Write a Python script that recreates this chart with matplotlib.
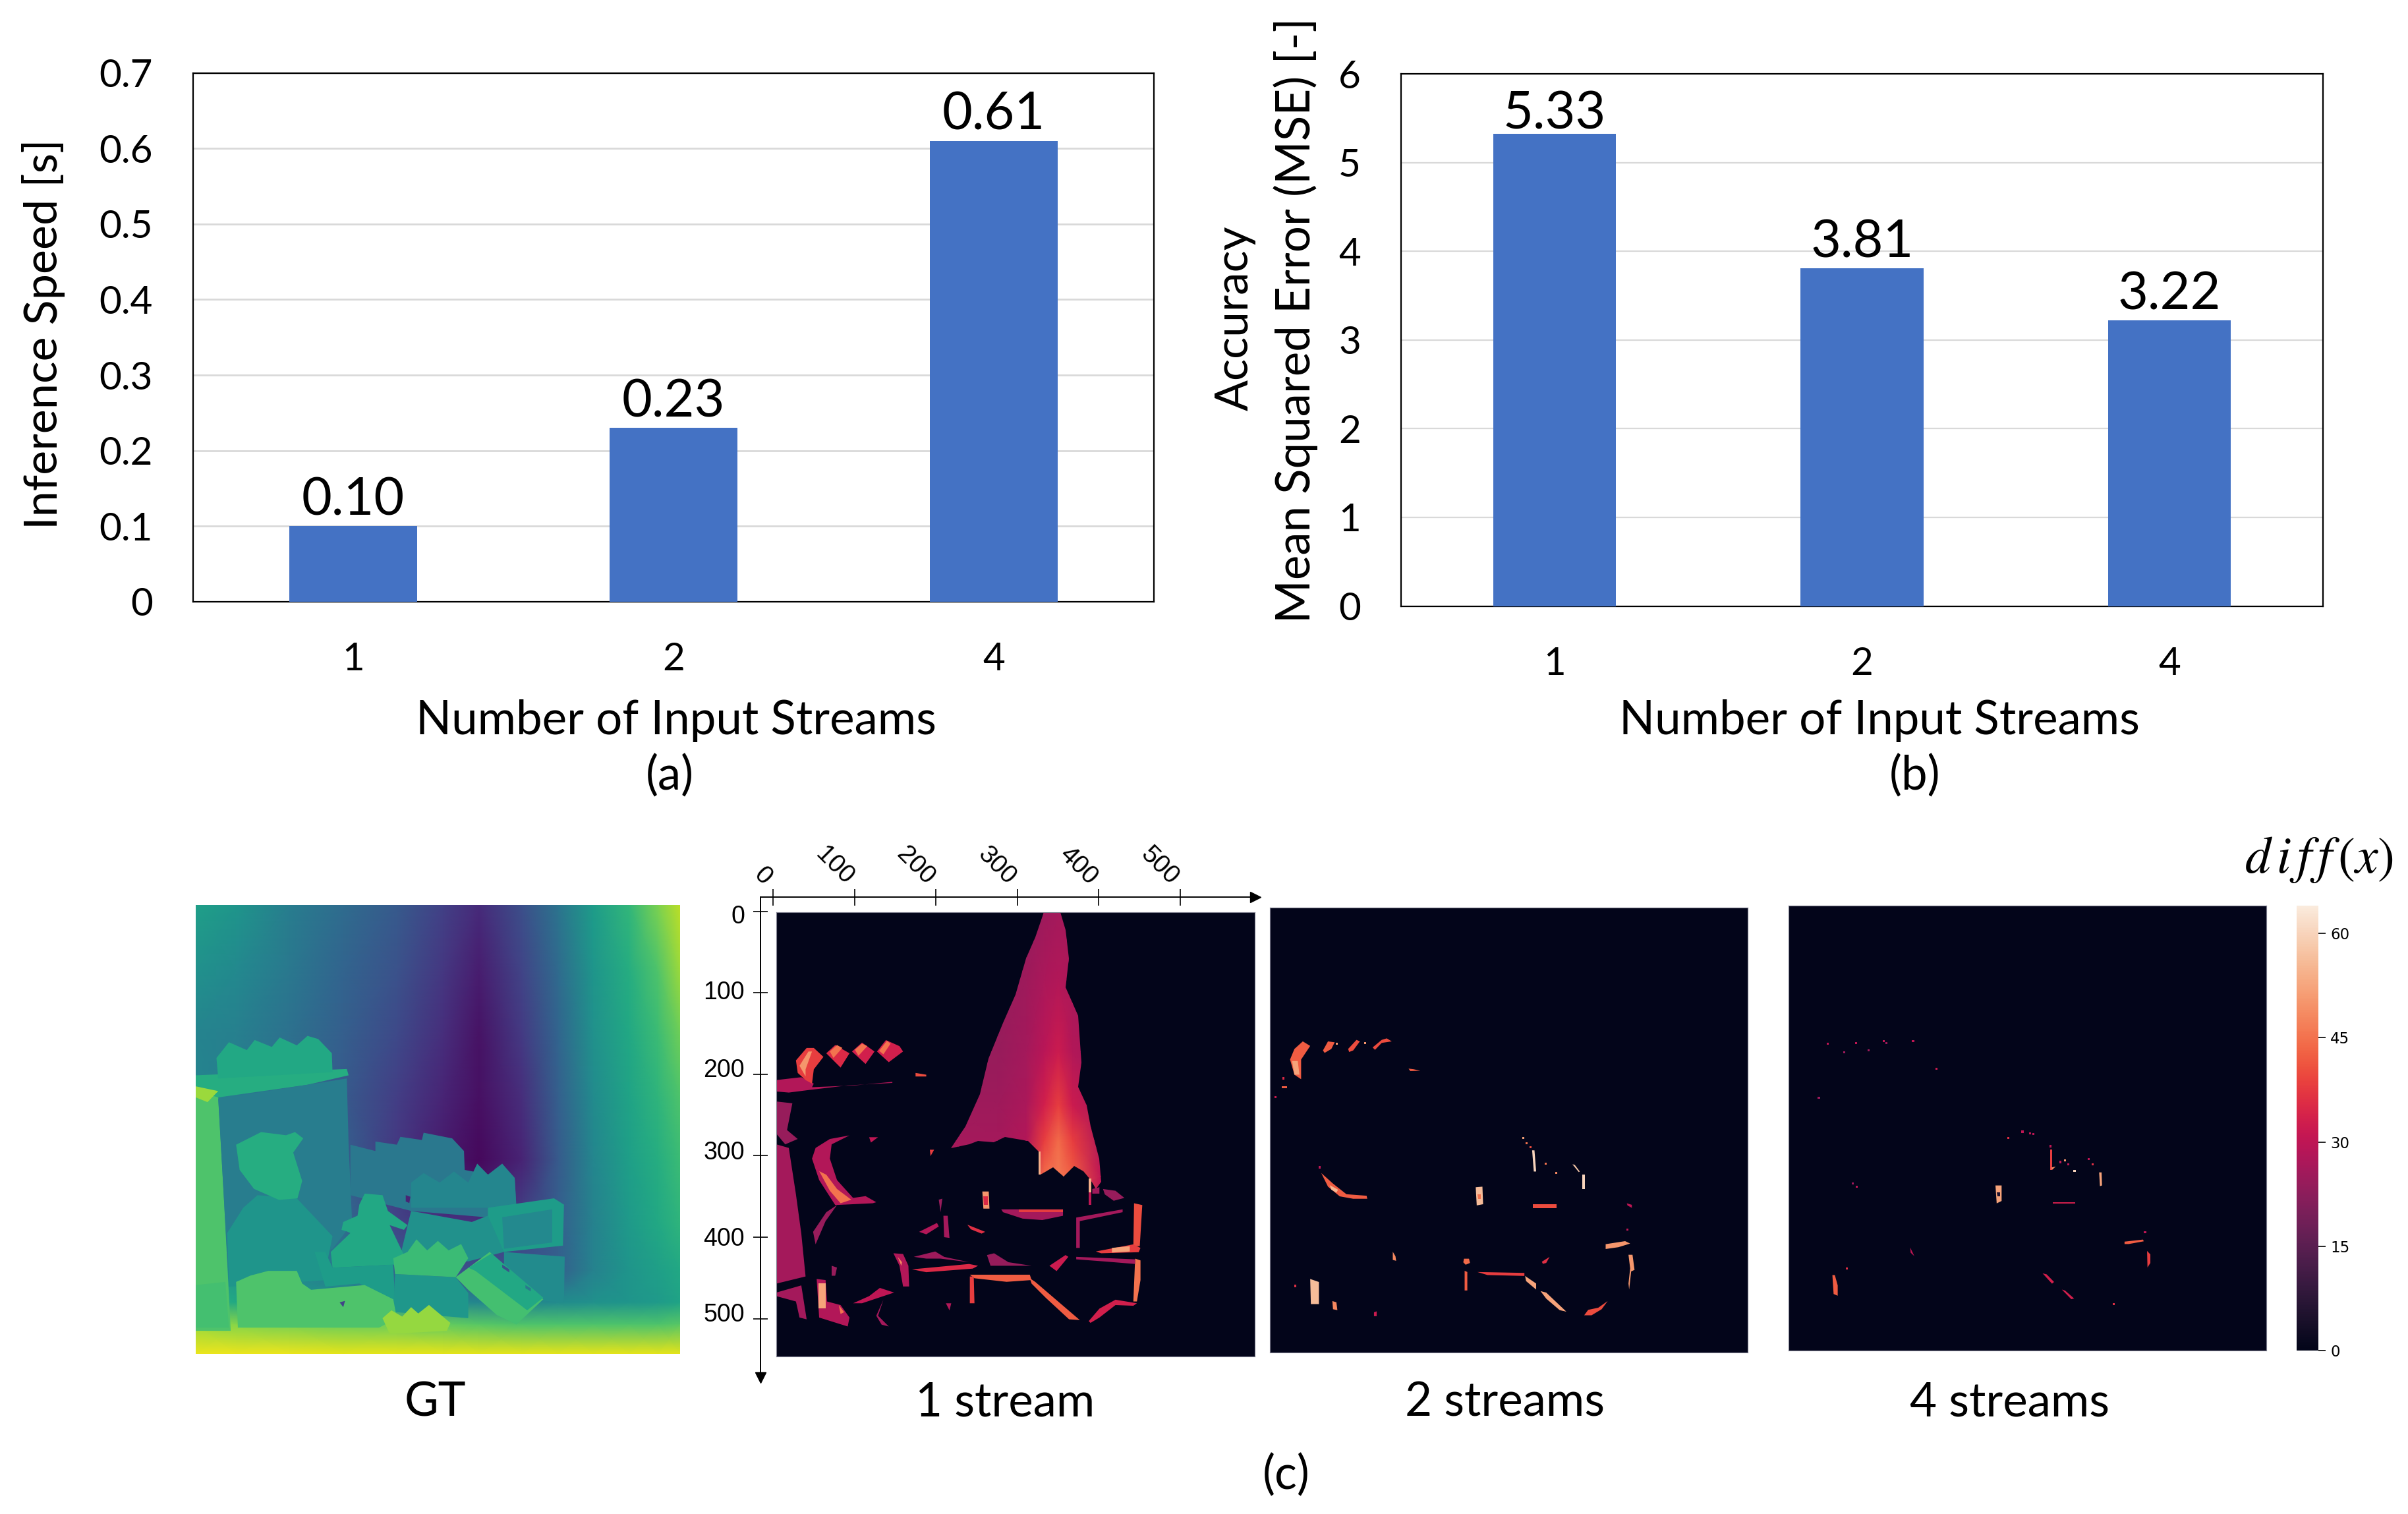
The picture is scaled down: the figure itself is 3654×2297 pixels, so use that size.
import numpy as np
import matplotlib
matplotlib.use("Agg")
import matplotlib.pyplot as plt
from matplotlib.patches import Polygon
from matplotlib.transforms import ScaledTranslation
import seaborn as sns

FIG_W, FIG_H = 3655, 2297
plt.rcParams['font.family'] = ['Lato', 'DejaVu Sans']
plt.rcParams['mathtext.fontset'] = 'stix'

BLUE = '#4472C4'
GRID = '#D9D9D9'

streams = ['1', '2', '4']
speed = [0.10, 0.23, 0.61]
speed_labels = ['0.10', '0.23', '0.61']
mse = [5.33, 3.81, 3.22]
mse_labels = ['5.33', '3.81', '3.22']
speed_ticks = [0, 0.1, 0.2, 0.3, 0.4, 0.5, 0.6, 0.7]
speed_ticklabels = ['0', '0.1', '0.2', '0.3', '0.4', '0.5', '0.6', '0.7']
mse_ticks = [0, 1, 2, 3, 4, 5, 6]

scale_xticks = [0, 100, 200, 300, 400, 500]
scale_yticks = [0, 100, 200, 300, 400, 500]
cbar_ticks = [0, 15, 30, 45, 60]
diff_max = 64

# depth background, read on a coarse grid (panel coordinates), viridis 0-1
gt_xs = [87, 200, 350, 500, 650, 780, 880, 1000, 1100, 1200, 1300, 1380, 1443]
gt_ys = [90, 300, 500, 700, 900, 1100, 1250, 1350, 1420, 1513]
gt_vals = [
    [.56, .52, .42, .35, .28, .19, .12, .24, .38, .55, .66, .80, .90],
    [.50, .47, .40, .32, .25, .16, .08, .20, .34, .52, .62, .72, .85],
    [.45, .43, .37, .30, .22, .13, .05, .17, .32, .50, .60, .68, .78],
    [.45, .42, .36, .28, .18, .10, .04, .13, .30, .48, .58, .65, .72],
    [.50, .45, .38, .30, .16, .07, .02, .10, .28, .46, .56, .62, .68],
    [.55, .45, .40, .34, .20, .14, .14, .20, .30, .44, .54, .60, .65],
    [.60, .50, .45, .40, .30, .25, .25, .25, .30, .44, .52, .56, .60],
    [.65, .60, .55, .52, .50, .48, .46, .46, .48, .50, .52, .54, .58],
    [.85, .82, .80, .78, .78, .76, .74, .72, .72, .72, .72, .72, .74],
    [.97, .97, .97, .96, .96, .96, .96, .96, .96, .96, .96, .96, .96],
]

# objects in the depth map: (viridis value, outline)
gt_objects = [
    (.72, [(87, 650), (150, 700), (165, 1000), (185, 1440), (87, 1440)]),
    (.62, [(87, 630), (510, 610), (515, 630), (400, 660), (150, 700), (87, 680)]),
    (.85, [(87, 665), (150, 680), (120, 715), (87, 700)]),
    (.60, [(145, 575), (180, 525), (230, 550), (252, 518), (300, 540), (322, 510), (370, 535), (400, 505), (430, 515), (468, 560), (470, 620), (150, 640)]),
    (.42, [(150, 705), (510, 640), (515, 850), (525, 1100), (470, 1180), (180, 1300)]),
    (.52, [(260, 1010), (370, 1020), (470, 1140), (445, 1280), (180, 1300), (175, 1130), (220, 1050)]),
    (.62, [(200, 850), (270, 810), (340, 820), (365, 810), (388, 830), (360, 875), (385, 965), (372, 1020), (320, 1025), (250, 990), (210, 930)]),
    (.40, [(520, 850), (590, 870), (590, 840), (650, 850), (660, 825), (720, 835), (725, 812), (805, 830), (838, 870), (840, 930), (980, 960), (985, 1060), (900, 1080), (690, 1060), (520, 1010)]),
    (.46, [(690, 970), (725, 940), (770, 970), (810, 935), (850, 970), (875, 910), (905, 945), (945, 910), (980, 955), (985, 1050), (690, 1050)]),
    (.55, [(905, 1050), (1090, 1020), (1118, 1040), (1115, 1170), (950, 1190), (905, 1150)]),
    (.47, [(945, 1080), (1085, 1055), (1085, 1160), (950, 1180)]),
    (.48, [(950, 1190), (1120, 1205), (1118, 1350), (1060, 1345), (950, 1260)]),
    (.50, [(690, 1060), (860, 1095), (905, 1075), (950, 1190), (850, 1220), (660, 1200)]),
    (.60, [(545, 1040), (560, 1005), (610, 1010), (625, 1060), (680, 1105), (670, 1120), (630, 1105), (670, 1200), (650, 1230), (470, 1240), (465, 1190), (520, 1130), (510, 1125), (495, 1120), (500, 1095), (540, 1075)]),
    (.55, [(420, 1190), (450, 1190), (470, 1240), (640, 1230), (645, 1350), (545, 1290), (450, 1300)]),
    (.53, [(645, 1260), (815, 1270), (850, 1320), (850, 1400), (640, 1380)]),
    (.68, [(640, 1210), (680, 1190), (705, 1150), (735, 1185), (765, 1155), (795, 1185), (830, 1165), (850, 1210), (815, 1270), (645, 1260)]),
    (.70, [(815, 1270), (910, 1190), (1060, 1340), (985, 1420), (930, 1390), (850, 1310)]),
    (.60, [(850, 1240), (915, 1195), (1060, 1335), (1015, 1375), (870, 1250)]),
    (.72, [(200, 1285), (240, 1265), (290, 1250), (370, 1250), (385, 1290), (410, 1310), (560, 1295), (640, 1340), (650, 1400), (600, 1430), (205, 1430)]),
    (.70, [(87, 1295), (170, 1285), (180, 1430), (87, 1430)]),
    (.84, [(610, 1400), (635, 1375), (665, 1395), (690, 1365), (710, 1385), (740, 1358), (800, 1415), (790, 1440), (630, 1450)]),
    (.25, [(945, 1230), (965, 1245), (965, 1255), (945, 1240)]),
    (.40, [(1010, 1295), (1025, 1305), (1025, 1315), (1010, 1305)]),
    (.20, [(490, 1350), (505, 1345), (500, 1365)]),
    (.10, [(675, 1010), (688, 1015), (685, 1035), (675, 1030)]),
]

# the big error wedge of the 1 stream map: outline and shading grid
wedge_outline = [(930, 210), (975, 210), (990, 260), (1000, 340), (990, 420), (1025, 500), (1035, 630), (1025, 700), (1050, 750), (1060, 810), (1085, 900), (1090, 965), (1075, 985), (1060, 960), (1040, 935), (1015, 920), (985, 950), (955, 925), (920, 945), (915, 880), (885, 850), (820, 840), (790, 855), (745, 850), (720, 860), (670, 870), (710, 810), (750, 720), (775, 620), (815, 520), (850, 440), (880, 340), (905, 280)]
wedge_xs = [670, 800, 880, 930, 970, 1010, 1090]
wedge_ys = [210, 400, 600, 750, 850, 950, 990]
wedge_vals = [
    [24, 24, 24, 25, 26, 26, 26],
    [24, 24, 25, 27, 28, 27, 26],
    [24, 24, 26, 29, 32, 28, 26],
    [25, 25, 27, 33, 38, 32, 27],
    [26, 26, 28, 38, 44, 38, 28],
    [28, 28, 30, 44, 46, 42, 30],
    [28, 28, 30, 44, 46, 42, 30],
]

# error regions: (diff value, outline)
stream1_blobs = [
    (54, [(915, 880), (921, 880), (921, 945), (915, 945)]),
    (26, [(180, 860), (215, 870), (235, 1000), (250, 1110), (262, 1230), (180, 1250)]),
    (24, [(180, 740), (225, 745), (210, 820), (240, 845), (205, 860), (180, 830)]),
    (26, [(180, 1275), (250, 1255), (265, 1350), (245, 1345), (235, 1300), (180, 1285)]),
    (28, [(180, 680), (250, 672), (285, 690), (280, 700), (400, 695), (505, 685), (505, 688), (380, 695), (270, 708), (215, 715), (180, 712)]),
    (38, [(265, 590), (285, 590), (312, 615), (285, 650), (280, 690), (262, 680), (240, 660), (235, 625)]),
    (50, [(245, 640), (270, 600), (280, 600), (262, 650), (262, 670)]),
    (35, [(345, 582), (385, 605), (360, 645), (320, 605)]),
    (45, [(330, 600), (350, 582), (365, 590), (340, 618)]),
    (33, [(420, 575), (455, 600), (430, 635), (392, 600)]),
    (45, [(400, 595), (420, 578), (435, 585), (410, 612)]),
    (33, [(487, 568), (525, 585), (535, 600), (495, 630), (462, 600)]),
    (45, [(468, 598), (490, 570), (500, 578), (480, 608)]),
    (40, [(570, 660), (600, 665), (600, 670), (570, 670)]),
    (28, [(385, 835), (330, 845), (290, 870), (280, 900), (300, 960), (345, 1030), (450, 1025), (460, 1022), (430, 1005), (395, 1010), (350, 960), (330, 900), (335, 860)]),
    (45, [(300, 935), (320, 945), (350, 985), (390, 1015), (360, 1025), (330, 990)]),
    (30, [(440, 840), (465, 840), (445, 855)]),
    (38, [(610, 875), (622, 875), (612, 893)]),
    (24, [(350, 1030), (318, 1075), (290, 1140), (283, 1105), (320, 1050)]),
    (50, [(757, 992), (775, 992), (777, 1040), (760, 1040)]),
    (35, [(760, 1005), (772, 1005), (772, 1030), (762, 1030)]),
    (26, [(810, 1042), (983, 1042), (983, 1060), (925, 1072), (870, 1068), (815, 1050)]),
    (38, [(860, 1042), (983, 1042), (983, 1050), (860, 1050)]),
    (30, [(1055, 995), (1063, 995), (1063, 1030), (1055, 1030)]),
    (54, [(1055, 955), (1063, 955), (1063, 995), (1055, 995)]),
    (25, [(1065, 985), (1085, 980), (1085, 998), (1065, 998)]),
    (24, [(1095, 985), (1130, 990), (1155, 1010), (1125, 1018), (1100, 1000)]),
    (26, [(1020, 1065), (1150, 1042), (1150, 1050), (1030, 1075), (1030, 1150), (1020, 1150)]),
    (40, [(1182, 1025), (1205, 1030), (1198, 1145), (1180, 1145)]),
    (38, [(1075, 1160), (1180, 1140), (1200, 1150), (1195, 1162), (1090, 1165)]),
    (52, [(1120, 1150), (1170, 1145), (1170, 1160), (1120, 1163)]),
    (45, [(1185, 1180), (1200, 1185), (1200, 1240), (1190, 1300), (1180, 1300)]),
    (26, [(1020, 1175), (1185, 1182), (1185, 1195), (1100, 1188), (1020, 1182)]),
    (35, [(560, 1210), (720, 1195), (745, 1200), (730, 1208), (600, 1218)]),
    (25, [(565, 1175), (625, 1160), (650, 1175), (720, 1190), (640, 1180), (600, 1180)]),
    (24, [(770, 1170), (790, 1165), (830, 1190), (895, 1200), (780, 1200)]),
    (32, [(945, 1200), (990, 1170), (998, 1175), (965, 1215)]),
    (42, [(722, 1225), (890, 1225), (895, 1240), (825, 1245), (735, 1235)]),
    (38, [(722, 1230), (733, 1230), (735, 1305), (722, 1305)]),
    (42, [(890, 1235), (905, 1245), (1030, 1352), (1000, 1350), (935, 1290), (895, 1250)]),
    (33, [(1060, 1360), (1055, 1355), (1085, 1320), (1130, 1295), (1190, 1305), (1180, 1312), (1130, 1310), (1085, 1345)]),
    (28, [(293, 1237), (318, 1240), (322, 1300), (360, 1310), (385, 1345), (380, 1370), (300, 1345)]),
    (52, [(298, 1250), (318, 1250), (318, 1320), (298, 1320)]),
    (45, [(355, 1310), (370, 1330), (360, 1335)]),
    (30, [(395, 1305), (440, 1285), (470, 1262), (510, 1275), (480, 1285), (420, 1305)]),
    (26, [(480, 1295), (465, 1340), (495, 1370), (475, 1365), (460, 1340)]),
    (28, [(508, 1165), (535, 1167), (550, 1200), (552, 1258), (535, 1258), (525, 1200)]),
    (48, [(520, 1175), (532, 1190), (530, 1200)]),
    (24, [(335, 1200), (350, 1205), (345, 1228), (335, 1228)]),
    (28, [(580, 1105), (630, 1080), (635, 1090), (600, 1112)]),
    (26, [(648, 1060), (660, 1060), (665, 1122), (650, 1120)]),
    (36, [(715, 1085), (765, 1105), (755, 1110), (725, 1098)]),
    (24, [(635, 1015), (645, 1012), (640, 1050)]),
    (28, [(655, 1305), (670, 1305), (665, 1325)]),
]

stream2_blobs = [
    (42, [(150, 500), (172, 515), (145, 560), (145, 625), (125, 610), (112, 560), (125, 525)]),
    (52, [(118, 565), (135, 565), (140, 610), (125, 610)]),
    (42, [(225, 500), (245, 503), (235, 525), (215, 538), (210, 530)]),
    (40, [(310, 495), (320, 500), (300, 530), (288, 535), (285, 525)]),
    (40, [(385, 495), (400, 490), (415, 500), (385, 505), (365, 528), (358, 520)]),
    (42, [(465, 590), (480, 592), (500, 597), (470, 598)]),
    (42, [(88, 648), (103, 648), (103, 655), (88, 655)]),
    (42, [(205, 935), (240, 970), (280, 1005), (340, 1010), (342, 1020), (300, 1020), (260, 1012), (225, 980)]),
    (55, [(230, 975), (255, 990), (250, 1000), (235, 990)]),
    (56, [(665, 982), (685, 980), (687, 1038), (668, 1042)]),
    (45, [(670, 1005), (680, 1005), (680, 1020), (672, 1020)]),
    (40, [(835, 1038), (905, 1038), (905, 1050), (835, 1050)]),
    (60, [(833, 860), (840, 860), (845, 930), (838, 930)]),
    (60, [(982, 940), (990, 940), (990, 987), (982, 987)]),
    (58, [(953, 906), (960, 908), (975, 930), (972, 932)]),
    (50, [(1052, 1170), (1110, 1160), (1125, 1168), (1090, 1180), (1052, 1186)]),
    (50, [(1120, 1205), (1132, 1205), (1138, 1255), (1128, 1260), (1122, 1320), (1120, 1300), (1125, 1250)]),
    (40, [(988, 1405), (1000, 1387), (1030, 1380), (1058, 1358), (1040, 1385), (1010, 1405)]),
    (52, [(858, 1325), (875, 1330), (935, 1393), (915, 1388), (875, 1350)]),
    (52, [(812, 1275), (845, 1300), (845, 1320), (815, 1292)]),
    (38, [(670, 1262), (810, 1265), (810, 1275), (700, 1272)]),
    (42, [(632, 1258), (640, 1262), (640, 1323), (632, 1323)]),
    (44, [(630, 1218), (645, 1218), (648, 1232), (635, 1238), (628, 1230)]),
    (56, [(172, 1285), (198, 1295), (198, 1368), (174, 1368)]),
    (48, [(238, 1358), (250, 1362), (253, 1388), (240, 1385)]),
    (48, [(418, 1195), (426, 1210), (428, 1225), (418, 1222)]),
    (36, [(862, 1228), (885, 1212), (875, 1232), (865, 1235)]),
    (32, [(362, 1395), (370, 1392), (370, 1408), (362, 1408)]),
    (30, [(1115, 1035), (1130, 1040), (1130, 1050), (1117, 1042)]),
]
stream2_dots = [(806, 820, 52), (817, 837, 45), (828, 849, 40), (874, 904, 45), (905, 934, 48),
                (93, 622, 35), (68, 685, 32), (200, 916, 30), (1117, 1122, 30), (128, 1308, 36),
                (335, 505, 50), (252, 508, 50)]

stream4_blobs = [
    (42, [(162, 1290), (168, 1290), (175, 1320), (175, 1350), (165, 1345)]),
    (52, [(560, 1030), (575, 1030), (575, 1075), (563, 1082)]),
    (5, [(563, 1050), (572, 1050), (572, 1062), (565, 1062)]),
    (38, [(693, 925), (698, 925), (698, 985), (693, 985)]),
    (48, [(696, 978), (707, 975), (698, 985)]),
    (52, [(813, 992), (819, 992), (820, 1030), (815, 1032)]),
    (33, [(700, 1078), (755, 1078), (755, 1083), (700, 1083)]),
    (42, [(875, 1193), (920, 1187), (922, 1192), (885, 1200), (875, 1200)]),
    (38, [(930, 1220), (938, 1230), (938, 1255), (931, 1268)]),
    (33, [(675, 1285), (685, 1288), (703, 1310), (698, 1315)]),
    (33, [(722, 1332), (730, 1335), (752, 1358), (745, 1360)]),
    (30, [(352, 1210), (356, 1220), (362, 1235), (353, 1225)]),
]
stream4_dots = [(150, 618, 30), (220, 616, 30), (288, 611, 30), (359, 611, 30), (191, 643, 25),
                (250, 637, 25), (294, 616, 25), (416, 692, 32), (129, 776, 25), (592, 892, 36),
                (626, 874, 30), (644, 878, 30), (653, 881, 30), (718, 962, 30), (729, 957, 50),
                (738, 968, 30), (753, 988, 60), (787, 953, 30), (797, 968, 36), (222, 1033, 30),
                (212, 1024, 25), (197, 1271, 36), (848, 1375, 36), (925, 1165, 30), (694, 916, 30)]


def px_axes(fig, left, top, right, bottom, **kw):
    return fig.add_axes([left / FIG_W, 1 - bottom / FIG_H, (right - left) / FIG_W, (bottom - top) / FIG_H], **kw)


def px_text(fig, x, y, s, **kw):
    kw.setdefault('ha', 'center')
    kw.setdefault('va', 'center')
    kw.setdefault('color', 'black')
    return fig.text(x / FIG_W, 1 - y / FIG_H, s, **kw)


def bar_chart(fig, box, values, labels, ymax, ticks, ticklabels, gridlw, tickfs, labelfs, offsets):
    ax = px_axes(fig, *box)
    x = np.arange(len(values))
    ax.bar(x, values, width=0.4, color=BLUE, zorder=3)
    ax.set_xlim(-0.5, len(values) - 0.5)
    ax.set_ylim(0, ymax)
    ax.set_yticks(ticks)
    ax.set_yticklabels(ticklabels, fontsize=tickfs)
    ax.set_xticks(x)
    ax.set_xticklabels(streams, fontsize=tickfs)
    ax.tick_params(axis='both', length=0)
    ax.grid(True, axis='y', color=GRID, linewidth=gridlw, zorder=0)
    ax.set_axisbelow(True)
    for sp in ax.spines.values():
        sp.set_linewidth(1.6)
    for xi, v, lab, off in zip(x, values, labels, offsets):
        ax.annotate(lab, (xi, v), xytext=(0, off), textcoords='offset points', ha='center', va='bottom', fontsize=labelfs)
    return ax


def heat_panel(fig, box, limits, cmap, blobs, dots=()):
    ax = px_axes(fig, *box)
    ax.set_facecolor(cmap(0.0))
    ax.set_xlim(limits[0], limits[1])
    ax.set_ylim(limits[2], limits[3])
    ax.set_autoscale_on(False)
    ax.set_xticks([])
    ax.set_yticks([])
    for val, pts in blobs:
        ax.add_patch(Polygon(pts, closed=True, facecolor=cmap(val / diff_max), edgecolor='none'))
    if len(dots):
        d = np.array(dots)
        ax.scatter(d[:, 0], d[:, 1], c=d[:, 2], cmap=cmap, vmin=0, vmax=diff_max, s=5, marker='s', linewidths=0)
    for sp in ax.spines.values():
        sp.set_color('#7f7f8f')
        sp.set_linewidth(0.8)
    return ax


def main():
    fig = plt.figure(figsize=(FIG_W / 100, FIG_H / 100), dpi=100, facecolor='white')
    rocket = sns.color_palette('rocket', as_cmap=True)

    # (a)
    ax_a = bar_chart(fig, (293, 110.5, 1751, 913), speed, speed_labels, 0.7, speed_ticks, speed_ticklabels,
                     2, 42, 57, [2, 2, 2])
    ax_a.tick_params(axis='y', pad=44)
    ax_a.tick_params(axis='x', pad=44)
    px_text(fig, 66, 507, 'Inference Speed [s]', rotation=90, fontsize=50.5)
    px_text(fig, 1026, 1093, 'Number of Input Streams', fontsize=51)
    px_text(fig, 1016, 1177, '(a)', fontsize=51)

    # (b)
    ax_b = bar_chart(fig, (2126, 112.4, 3525, 919.5), mse, mse_labels, 6, mse_ticks, [str(t) for t in mse_ticks],
                     1.6, 42, 57, [-5, 2, 2])
    ax_b.tick_params(axis='y', pad=44)
    ax_b.tick_params(axis='x', pad=44)
    px_text(fig, 1874, 483, 'Accuracy', rotation=90, fontsize=50)
    px_text(fig, 1966, 486, 'Mean Squared Error (MSE) [-]', rotation=90, fontsize=51)
    px_text(fig, 2852, 1093, 'Number of Input Streams', fontsize=51)
    px_text(fig, 2906, 1177, '(b)', fontsize=51)

    # GT
    ax_gt = px_axes(fig, 297, 1373, 1032, 2054)
    ax_gt.pcolormesh(gt_xs, gt_ys, np.array(gt_vals), shading='gouraud', cmap='viridis', vmin=0, vmax=1)
    for val, pts in gt_objects:
        ax_gt.add_patch(Polygon(pts, closed=True, facecolor=plt.get_cmap('viridis')(val), edgecolor='none'))
    ax_gt.set_xlim(87, 1443)
    ax_gt.set_ylim(1513, 90)
    ax_gt.axis('off')

    # error maps
    ax1 = heat_panel(fig, (1178, 1384, 1904, 2058), (180, 1520, 1454, 210), rocket, stream1_blobs)
    mesh = ax1.pcolormesh(wedge_xs, wedge_ys, np.array(wedge_vals), shading='gouraud', cmap=rocket,
                          vmin=0, vmax=diff_max, zorder=0.5)
    mesh.set_clip_path(Polygon(wedge_outline, closed=True, transform=ax1.transData))
    heat_panel(fig, (1927, 1377, 2652, 2052), (52, 1475, 1528, 58), rocket, stream2_blobs, stream2_dots)
    heat_panel(fig, (2714, 1374, 3439, 2049), (55, 1221, 1509, 218), rocket, stream4_blobs, stream4_dots)

    # pixel scale around the first error map
    left, top, right, bottom = 1153.7, 1360.5, 1905, 2090
    sx, sy = 1.235, 1.2358
    ax_s = px_axes(fig, left, top, right, bottom, facecolor='none')
    ax_s.set_xlim((left - 1173) / sx, (right - 1173) / sx)
    ax_s.set_ylim((bottom - 1382.7) / sy, (top - 1382.7) / sy)
    ax_s.spines['right'].set_visible(False)
    ax_s.spines['bottom'].set_visible(False)
    ax_s.spines['top'].set_linewidth(1.4)
    ax_s.spines['left'].set_linewidth(1.4)
    ax_s.xaxis.tick_top()
    ax_s.set_xticks(scale_xticks)
    ax_s.set_yticks(scale_yticks)
    ax_s.tick_params(axis='x', direction='inout', length=18, width=1.2, pad=8)
    ax_s.tick_params(axis='y', direction='inout', length=16, width=1.2, pad=9)
    ax_s.set_xticklabels([str(t) for t in scale_xticks], rotation=-45, rotation_mode='anchor', ha='right', va='center',
                         family='Liberation Sans', fontsize=28)
    ax_s.set_yticklabels([str(t) for t in scale_yticks], family='Liberation Sans', fontsize=27)
    # the reference places these labels by hand, slightly off their ticks
    shift = ScaledTranslation(-8 / 100, 0, fig.dpi_scale_trans)
    for lab in ax_s.get_xticklabels():
        lab.set_transform(lab.get_transform() + shift)
    for lab, dy in zip(ax_s.get_yticklabels(), [-4, 4, 10, 8, 1, 10]):
        lab.set_transform(lab.get_transform() + ScaledTranslation(0, dy / 100, fig.dpi_scale_trans))
    ax_s.plot(1, 1, '>', transform=ax_s.transAxes, color='black', markersize=11, clip_on=False)
    ax_s.plot(0, 0, 'v', transform=ax_s.transAxes, color='black', markersize=11, clip_on=False)

    # colorbar
    cax = px_axes(fig, 3485, 1374, 3518, 2049)
    sm = plt.cm.ScalarMappable(cmap=rocket, norm=plt.Normalize(0, diff_max))
    cb = fig.colorbar(sm, cax=cax)
    cb.set_ticks(cbar_ticks)
    cb.outline.set_visible(False)
    cb.ax.tick_params(length=8, width=1.2, pad=5)
    for t in cb.ax.get_yticklabels():
        t.set_family('DejaVu Sans')
        t.set_fontsize(16.5)
    px_text(fig, 3519, 1305, r'$d\,i\,f\,f\,(x)$', fontsize=56)

    px_text(fig, 660, 2128, 'GT', fontsize=51)
    px_text(fig, 1525, 2128, '1 stream', fontsize=51)
    px_text(fig, 2284, 2128, '2 streams', fontsize=51)
    px_text(fig, 3050, 2128, '4 streams', fontsize=51)
    px_text(fig, 1952, 2238, '(c)', fontsize=51)

    fig.savefig('out.png', dpi=100, facecolor='white')


if __name__ == "__main__":
    main()
